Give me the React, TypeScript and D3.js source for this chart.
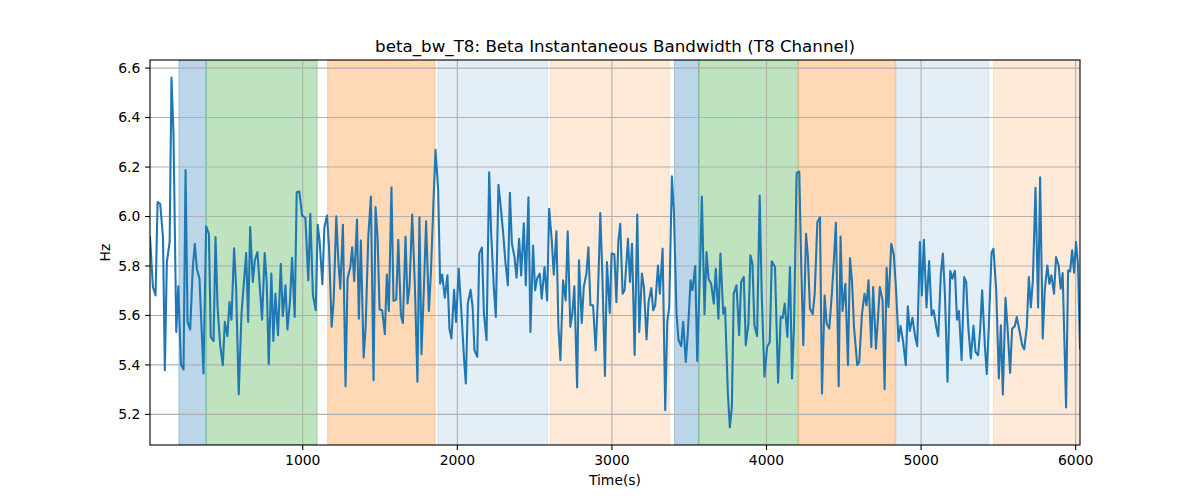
import * as d3 from "d3";

const times = [
  12, 31, 48, 61, 78, 96, 108, 121, 139, 151, 164, 182, 195, 212, 229, 242, 255, 272, 289, 302,
  315, 332, 358, 375, 393, 405, 423, 436, 449, 466, 483, 496, 513, 526, 539, 556, 569, 586, 604, 634,
  647, 660, 677, 690, 707, 720, 737, 754, 767, 780, 797, 810, 823, 840, 858, 871, 888, 901, 918, 931,
  948, 961, 978, 996, 1017,
  1036, 1049, 1066, 1084, 1097, 1109, 1127, 1140, 1157, 1170, 1187, 1200, 1217, 1230, 1243, 1260, 1277, 1290, 1308, 1320,
  1333, 1351, 1363, 1376, 1394, 1407, 1424, 1441, 1458, 1471, 1484, 1497, 1514, 1531, 1544, 1557, 1574, 1587, 1605, 1618,
  1635, 1648, 1665, 1678, 1691, 1708, 1725, 1742, 1755, 1768, 1785, 1798, 1816, 1829, 1846, 1859, 1876, 1889, 1902, 1919,
  1936, 1949, 1962, 1979, 1992, 2009, 2027, 2044,
  2055, 2068, 2086, 2099, 2111, 2129, 2142, 2159, 2172, 2189, 2206, 2219, 2236, 2249, 2266, 2279, 2297, 2310, 2327, 2340,
  2353, 2370, 2383, 2400, 2413, 2430, 2443, 2460, 2473, 2490, 2503, 2516, 2533, 2546, 2564, 2581, 2594, 2611, 2624, 2641,
  2654, 2667, 2684, 2701, 2714, 2731, 2744, 2757, 2775, 2787, 2805, 2818, 2835, 2848, 2861, 2878, 2895, 2908, 2925, 2938,
  2955, 2968, 2986, 2998, 3016, 3029, 3042, 3054,
  3069, 3082, 3104, 3117, 3130, 3147, 3164, 3177, 3194, 3207, 3224, 3237, 3255, 3267, 3280, 3298, 3310, 3328, 3345, 3358,
  3371, 3388, 3401, 3418, 3431, 3448, 3461, 3478, 3491, 3509, 3521, 3539, 3552, 3569, 3582, 3599, 3612, 3625, 3642, 3659,
  3672, 3689, 3702, 3720, 3732, 3750, 3763, 3776, 3788, 3806, 3823, 3836, 3853, 3866, 3883, 3896, 3909, 3922, 3939, 3956,
  3969, 3987, 4004, 4021, 4034, 4055,
  4075, 4092, 4105, 4118, 4135, 4152, 4165, 4178, 4195, 4212, 4225, 4238, 4256, 4268, 4281, 4299, 4312, 4329, 4346, 4359,
  4376, 4389, 4406, 4423, 4436, 4449, 4467, 4479, 4492, 4510, 4527, 4540, 4553, 4566, 4587, 4600, 4617, 4634, 4647, 4660,
  4678, 4690, 4708, 4721, 4733, 4751, 4764, 4777, 4789, 4807, 4824, 4837, 4854, 4867, 4884, 4901, 4914, 4927, 4944, 4962,
  4975, 4992, 5005, 5018, 5035, 5052,
  5068, 5081, 5098, 5111, 5128, 5141, 5154, 5171, 5189, 5202, 5219, 5232, 5245, 5262, 5279, 5292, 5305, 5322, 5339, 5352,
  5369, 5382, 5395, 5413, 5425, 5438, 5456, 5468, 5486, 5503, 5516, 5529, 5546, 5559, 5576, 5589, 5606, 5619, 5636, 5654,
  5667, 5684, 5697, 5710, 5723, 5740, 5757, 5770, 5787, 5800, 5817, 5830, 5843, 5860, 5873, 5890, 5903, 5916, 5938, 5951,
  5964, 5977, 5990, 6002, 6015, 6028,
];

const bandwidth = [
  5.917, 5.715, 5.681, 6.058, 6.051, 5.917, 5.379, 5.816, 5.897, 6.562, 6.334, 5.533, 5.718, 5.403, 5.381, 6.188, 5.574, 5.543, 5.796, 5.89,
  5.789, 5.749, 5.365, 5.96, 5.93, 5.513, 5.496, 5.917, 5.634, 5.48, 5.399, 5.574, 5.516, 5.654, 5.583, 5.872, 5.715, 5.282, 5.607, 5.852,
  5.574, 5.957, 5.735, 5.823, 5.856, 5.735, 5.583, 5.852, 5.735, 5.403, 5.769, 5.497, 5.688, 5.52, 5.809, 5.597, 5.722, 5.543, 5.661, 5.833,
  5.594, 6.098, 6.101, 6.004, 5.995,
  5.742, 6.011, 5.681, 5.621, 5.967, 5.903, 5.726, 5.957, 6.004, 5.876, 5.554, 5.661, 6.001, 5.823, 5.708, 5.967, 5.314, 5.749, 5.796, 5.876,
  5.739, 5.988, 5.587, 5.903, 5.43, 5.554, 5.917, 6.081, 5.338, 6.038, 5.917, 5.624, 5.621, 5.524, 5.765, 5.618, 6.118, 5.659, 5.664, 5.906,
  5.601, 5.57, 5.919, 5.648, 5.718, 6.008, 5.728, 5.332, 5.997, 5.443, 5.731, 5.981, 5.618, 5.769, 6.065, 6.27, 6.105, 5.728, 5.765, 5.672,
  5.762, 5.547, 5.507, 5.704, 5.574, 5.789, 5.607, 5.419,
  5.325, 5.648, 5.704, 5.634, 5.459, 5.433, 5.852, 5.874, 5.607, 5.5, 6.179, 5.93, 5.715, 5.594, 6.128, 6.051, 5.93, 5.823, 5.722, 6.096,
  5.89, 5.836, 5.753, 5.91, 5.762, 5.973, 5.722, 6.078, 5.533, 5.883, 5.702, 5.749, 5.769, 5.668, 5.796, 5.661, 6.031, 5.903, 5.765, 5.94,
  5.554, 5.419, 5.742, 5.661, 5.94, 5.554, 5.607, 5.718, 5.309, 5.823, 5.57, 5.715, 5.769, 5.876, 5.641, 5.641, 5.459, 5.648, 6.014, 5.769,
  5.355, 5.816, 5.61, 5.85, 5.847, 5.654, 5.903, 5.971,
  5.688, 5.702, 5.91, 5.735, 5.89, 5.44, 6.008, 5.533, 5.769, 5.715, 5.503, 5.654, 5.711, 5.621, 5.641, 5.802, 5.688, 5.87, 5.217, 5.574,
  5.634, 6.163, 6.018, 5.607, 5.5, 5.476, 5.574, 5.412, 5.527, 5.742, 5.702, 5.8, 5.416, 5.769, 6.081, 5.605, 5.856, 5.749, 5.728, 5.648,
  5.789, 5.587, 5.85, 5.607, 5.632, 5.285, 5.147, 5.231, 5.688, 5.722, 5.52, 5.735, 5.755, 5.48, 5.567, 5.843, 5.809, 5.56, 5.516, 6.085,
  5.688, 5.352, 5.473, 5.493, 5.819, 5.796,
  5.328, 5.594, 5.59, 5.648, 5.513, 5.796, 5.345, 5.554, 6.175, 6.182, 5.796, 5.48, 5.93, 5.836, 5.628, 5.605, 5.688, 5.977, 5.997, 5.285,
  5.681, 5.567, 5.547, 5.688, 5.823, 5.975, 5.314, 5.919, 5.618, 5.728, 5.399, 5.832, 5.742, 5.554, 5.399, 5.412, 5.601, 5.688, 5.641, 5.742,
  5.473, 5.715, 5.466, 5.587, 5.715, 5.661, 5.302, 5.793, 5.634, 5.89, 5.843, 5.715, 5.496, 5.558, 5.493, 5.399, 5.637, 5.537, 5.591, 5.513,
  5.476, 5.897, 5.681, 5.906, 5.632, 5.82,
  5.601, 5.621, 5.554, 5.516, 5.769, 5.85, 5.688, 5.332, 5.78, 5.749, 5.78, 5.583, 5.618, 5.419, 5.755, 5.735, 5.554, 5.426, 5.558, 5.453,
  5.439, 5.54, 5.702, 5.473, 5.363, 5.554, 5.856, 5.87, 5.702, 5.345, 5.56, 5.281, 5.671, 5.554, 5.368, 5.547, 5.556, 5.594, 5.54, 5.48,
  5.463, 5.554, 5.755, 5.632, 5.742, 6.116, 5.632, 6.159, 5.507, 5.702, 5.802, 5.728, 5.762, 5.688, 5.836, 5.802, 5.708, 5.771, 5.228, 5.782,
  5.778, 5.863, 5.773, 5.897, 5.806, 5.466,
];

// shaded state intervals
const spanStart = [199, 375, 1161, 1874, 2602, 3405, 3562, 4208, 4837, 5468];
const spanEnd = [375, 1093, 1856, 2585, 3371, 3562, 4205, 4833, 5438, 6060];
const spanKind = ["blueDark", "green", "orange", "blueLight", "orangeLight", "blueDark", "green", "orange", "blueLight", "orangeLight"];

const xTicks = [1000, 2000, 3000, 4000, 5000, 6000];
const yTicks = [5.2, 5.4, 5.6, 5.8, 6.0, 6.2, 6.4, 6.6];

const spanStyle: Record<string, { color: string; alpha: number }> = {
  blueDark: { color: "#1f77b4", alpha: 0.3 },
  blueLight: { color: "#1f77b4", alpha: 0.12 },
  green: { color: "#2ca02c", alpha: 0.3 },
  orange: { color: "#ff7f0e", alpha: 0.3 },
  orangeLight: { color: "#ff7f0e", alpha: 0.16 },
};

const W = 1200;
const H = 500;
const margin = { top: 60, right: 120, bottom: 55, left: 150 };
const font = "'DejaVu Sans', sans-serif";

export default function App() {
  const innerW = W - margin.left - margin.right;
  const innerH = H - margin.top - margin.bottom;

  const x = d3.scaleLinear().domain([12, 6028]).range([0, innerW]);

  const [lo, hi] = d3.extent(bandwidth) as [number, number];
  const pad = (hi - lo) * 0.05;
  const y = d3.scaleLinear().domain([lo - pad, hi + pad]).range([innerH, 0]);

  const line = d3
    .line<number>()
    .x((_, i) => x(times[i]))
    .y((d) => y(d));

  return (
    <svg
      width={W}
      height={H}
      style={{ position: "absolute", left: 0, top: 0, background: "#fff" }}
      fontFamily={font}
    >
      <defs>
        <clipPath id="plot-area">
          <rect width={innerW} height={innerH} />
        </clipPath>
      </defs>
      <g transform={`translate(${margin.left},${margin.top})`}>
        <g clipPath="url(#plot-area)">
          {spanStart.map((s, i) => {
            const st = spanStyle[spanKind[i]];
            return (
              <rect
                key={i}
                x={x(s)}
                y={0}
                width={x(spanEnd[i]) - x(s)}
                height={innerH}
                fill={st.color}
                fillOpacity={st.alpha}
                stroke={st.color}
                strokeOpacity={st.alpha}
                strokeWidth={1.1}
              />
            );
          })}

          {/* grid */}
          {xTicks.map((t) => (
            <line key={`gx${t}`} x1={x(t)} x2={x(t)} y1={0} y2={innerH} stroke="#b0b0b0" strokeWidth={1.1} />
          ))}
          {yTicks.map((t) => (
            <line key={`gy${t}`} x1={0} x2={innerW} y1={y(t)} y2={y(t)} stroke="#b0b0b0" strokeWidth={1.1} />
          ))}

          <path
            d={line(bandwidth) ?? ""}
            fill="none"
            stroke="#1f77b4"
            strokeWidth={2.08}
            strokeLinejoin="round"
            strokeLinecap="square"
          />
        </g>

        {/* spines */}
        <rect width={innerW} height={innerH} fill="none" stroke="#000" strokeWidth={1.1} />

        {/* x axis */}
        {xTicks.map((t) => (
          <g key={`tx${t}`} transform={`translate(${x(t)},${innerH})`}>
            <line y2={4.9} stroke="#000" strokeWidth={1.1} />
            <text y={9.7} dy="0.76em" textAnchor="middle" fontSize={13.9} fill="#000">
              {t}
            </text>
          </g>
        ))}

        {/* y axis */}
        {yTicks.map((t) => (
          <g key={`ty${t}`} transform={`translate(0,${y(t)})`}>
            <line x2={-4.9} stroke="#000" strokeWidth={1.1} />
            <text x={-9.7} dy="0.35em" textAnchor="end" fontSize={13.9} fill="#000">
              {t.toFixed(1)}
            </text>
          </g>
        ))}

        <text x={innerW / 2} y={innerH + 40} textAnchor="middle" fontSize={13.9} fill="#000">
          Time(s)
        </text>
        <text
          transform={`translate(-40,${innerH / 2}) rotate(-90)`}
          textAnchor="middle"
          fontSize={13.9}
          fill="#000"
        >
          Hz
        </text>

        <text x={innerW / 2} y={-8.3} textAnchor="middle" fontSize={16.7} fill="#000">
          beta_bw_T8: Beta Instantaneous Bandwidth (T8 Channel)
        </text>
      </g>
    </svg>
  );
}
